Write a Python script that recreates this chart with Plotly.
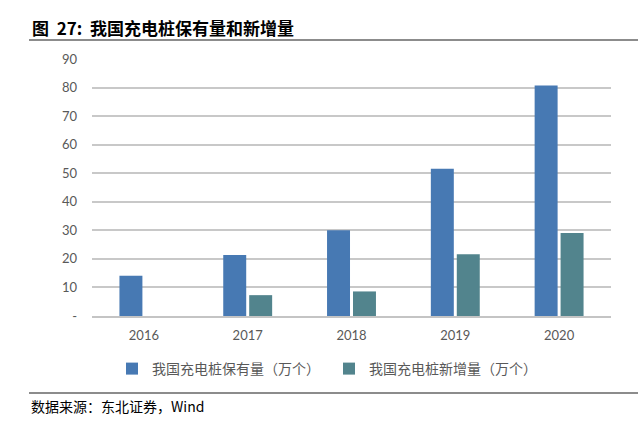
import plotly.graph_objects as go

years = ["2016", "2017", "2018", "2019", "2020"]
stock = [14.1, 21.4, 30.0, 51.6, 80.7]
added = [None, 7.3, 8.6, 21.6, 29.1]
y_ticks = [0, 10, 20, 30, 40, 50, 60, 70, 80, 90]
y_tick_text = ["-", "10", "20", "30", "40", "50", "60", "70", "80", "90"]

W, H = 638, 422
L, R, T, B = 92, 611, 59, 316

def px_x(px):
    return (px - L) / (R - L)

def px_y(py):
    return (B - py) / (B - T)

fig = go.Figure()
fig.add_trace(go.Bar(x=years, y=stock, name="我国充电桩保有量（万个）",
                     marker=dict(color="#4779B3", line=dict(width=0))))
fig.add_trace(go.Bar(x=years, y=added, name="我国充电桩新增量（万个）",
                     marker=dict(color="#52848D", line=dict(width=0))))

fig.update_layout(
    width=W, height=H,
    margin=dict(l=L, r=W - R, t=T, b=H - B),
    paper_bgcolor="white", plot_bgcolor="white",
    barmode="group", bargap=0.5, bargroupgap=0.115,
    font=dict(family="Lato, 'Noto Sans CJK SC', sans-serif", color="#595959", size=13),
    xaxis=dict(showgrid=False, showline=True, linecolor="#C4C4C4", linewidth=1.5,
               ticks="", ticklabelstandoff=7, tickfont=dict(size=13, color="#595959")),
    yaxis=dict(range=[0, 90], tickvals=y_ticks, ticktext=y_tick_text,
               showgrid=True, gridcolor="#C8C8C8", gridwidth=1.5, zeroline=False,
               ticks="", ticklabelstandoff=14, tickfont=dict(size=13, color="#595959")),
    legend=dict(orientation="h", x=px_x(112), y=px_y(353), xanchor="left", yanchor="top",
                font=dict(family="'Noto Sans CJK SC', sans-serif", size=14, color="#595959"),
                entrywidth=172, entrywidthmode="pixels", itemwidth=30,
                bgcolor="rgba(0,0,0,0)"),
    showlegend=True,
)

# title and rules
fig.add_annotation(text="<b>图  27:  我国充电桩保有量和新增量</b>", xref="paper", yref="paper",
                   x=px_x(30), y=px_y(27), xanchor="left", yanchor="middle", showarrow=False,
                   font=dict(family="'Noto Sans CJK SC', serif", size=17, color="black"))
fig.add_shape(type="rect", xref="paper", yref="paper", x0=px_x(29), x1=px_x(638),
              y0=px_y(39), y1=px_y(41), layer="above", fillcolor="#8C8C8C",
              line=dict(width=0))
fig.add_shape(type="rect", xref="paper", yref="paper", x0=px_x(29), x1=px_x(638),
              y0=px_y(392), y1=px_y(394), layer="above", fillcolor="#8C8C8C",
              line=dict(width=0))
fig.add_annotation(text="数据来源：东北证券，Wind", xref="paper", yref="paper",
                   x=px_x(29), y=px_y(406), xanchor="left", yanchor="middle", showarrow=False,
                   font=dict(family="'Noto Sans CJK SC', serif", size=14, color="black"))

fig.write_html("out.html", config={"displayModeBar": False},
               post_script="document.body.style.margin='0';")
